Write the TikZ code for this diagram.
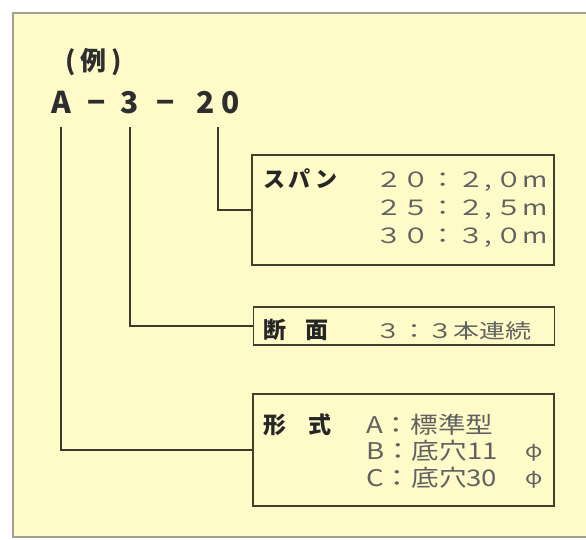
\documentclass[tikz,border=0pt]{standalone}
\usepackage{fontspec}
\setmainfont{Noto Sans CJK JP}
\begin{document}
\begin{tikzpicture}[x=1pt,y=-1pt,
  codetext/.style={inner sep=0pt,anchor=base,text=black!82,font=\fontsize{30}{30}\selectfont\bfseries},
  boxframe/.style={draw=black!70!olive,line width=1.8pt,inner sep=0pt},
  lbl/.style={inner sep=0pt,anchor=base west,text=black!85,font=\fontsize{23}{23}\selectfont\bfseries},
  val/.style={inner sep=0pt,anchor=base west,text=black!62,font=\fontsize{21}{21}\selectfont\addfontfeature{FakeStretch=1.3}},
  fval/.style={inner sep=0pt,anchor=base west,text=black!62,font=\fontsize{23}{23}\selectfont\addfontfeature{FakeStretch=1.2}},
  conn/.style={draw=black!75!olive,line width=1.8pt}]
\useasboundingbox (0,0) rectangle (586,539);
\fill[white] (0,0) rectangle (586,539);
\draw[fill={rgb,255:red,255;green,251;blue,200},draw={rgb,255:red,160;green,160;blue,145},line width=2.5pt] (13,13) rectangle (600,537);
% example label
\node[inner sep=0pt,anchor=base west,text=black!82,font=\fontsize{26}{26}\selectfont\bfseries] (ex) at (65,70) {(\hspace{5pt}例\hspace{5pt})};
% code
\node[codetext] (cA) at (61,113) {A};
\node[codetext] (d1) at (97,113) {−};
\node[codetext] (c3) at (130,113) {3};
\node[codetext] (d2) at (166,113) {−};
\node[codetext] (c20) at (218,113) {2\hspace{6pt}0};
% boxes
\node[boxframe,minimum width=302pt,minimum height=110pt] (span) at (403,210) {};
\node[boxframe,minimum width=301pt,minimum height=38pt] (sect) at (404,326) {};
\node[boxframe,minimum width=301pt,minimum height=112pt] (form) at (403.5,450) {};
% span text
\node[lbl,font=\fontsize{22}{22}\selectfont\bfseries\addfontfeature{LetterSpace=16}] (spanl) at (263,187) {スパン};
\node[val] (s1) at (375,187) {２０：２,\,０m};
\node[val] (s2) at (375,215) {２５：２,\,５m};
\node[val] (s3) at (375,243) {３０：３,\,０m};
% section text
\node[lbl] (sectl) at (263,338) {断\hspace{19pt}面};
\node[val,font=\fontsize{20}{20}\selectfont\addfontfeature{FakeStretch=1.3}] (t1) at (375,338) {３：３本連続};
% form text
\node[lbl] (forml) at (263,433) {形\hspace{22pt}式};
\node[fval] (f1) at (366,433) {A：標準型};
\node[fval] (f2) at (366,459) {B：底穴11\hspace{28pt}\raisebox{2pt}{\fontsize{19}{19}\selectfont φ}};
\node[fval] (f3) at (366,486) {C：底穴30\hspace{28pt}\raisebox{2pt}{\fontsize{19}{19}\selectfont φ}};
% connectors
\draw[conn] ([yshift=-14pt]c20.base) |- (span.west);
\draw[conn] ([yshift=-14pt]c3.base) |- (sect.west);
\draw[conn] ([yshift=-14pt]cA.base) |- (form.west);
\end{tikzpicture}
\end{document}
